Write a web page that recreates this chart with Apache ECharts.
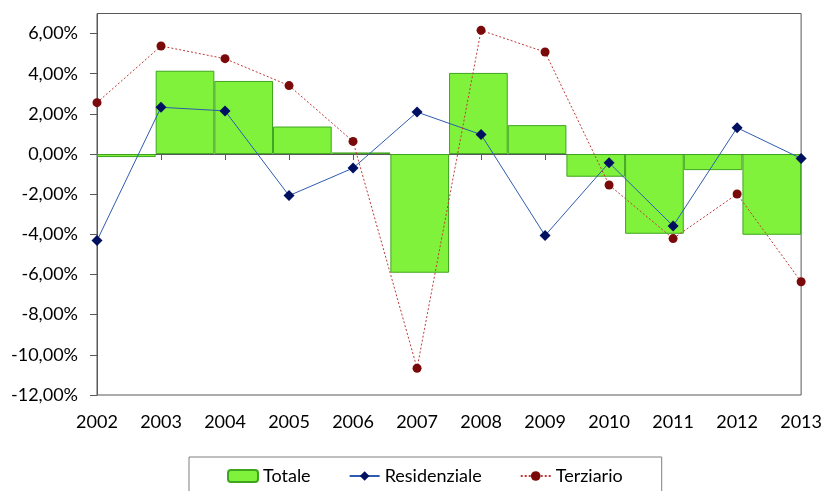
<!DOCTYPE html>
<html>
<head>
<meta charset="utf-8">
<script src="https://cdn.jsdelivr.net/npm/echarts@6/dist/echarts.min.js"></script>
<style>
  html, body { margin: 0; padding: 0; background: #fff; }
  #chart { width: 825px; height: 491px; }
</style>
</head>
<body>
<div id="chart"></div>
<script>
// Annual change (%) by sector
const years = ['2002', '2003', '2004', '2005', '2006', '2007', '2008', '2009', '2010', '2011', '2012', '2013'];
const totale = [-0.15, 4.15, 3.64, 1.37, 0.08, -5.91, 4.04, 1.44, -1.13, -3.97, -0.80, -4.02];
const residenziale = [-4.31, 2.33, 2.15, -2.07, -0.70, 2.09, 0.97, -4.06, -0.43, -3.58, 1.31, -0.22];
const terziario = [2.56, 5.38, 4.75, 3.41, 0.63, -10.67, 6.16, 5.08, -1.54, -4.21, -1.99, -6.36];
const yTicks = [-12, -10, -8, -6, -4, -2, 0, 2, 4, 6];

const fontFamily = 'Lato, "Open Sans", sans-serif';
const pct = v => v.toFixed(2).replace('.', ',') + '%';

const chart = echarts.init(document.getElementById('chart'), null, { renderer: 'canvas' });
chart.setOption({
  animation: false,
  backgroundColor: '#ffffff',
  textStyle: { fontFamily: fontFamily },
  grid: {
    left: 97, right: 22, top: 13.5, bottom: 96,
    show: true, borderColor: '#595959', borderWidth: 1, backgroundColor: 'transparent'
  },
  legend: {
    left: 189, top: 457,
    padding: [10, 39, 20, 38],
    borderColor: '#7f7f7f', borderWidth: 1,
    itemWidth: 30, itemHeight: 12, itemGap: 38,
    textStyle: { fontSize: 18, color: '#000', fontFamily: fontFamily },
    data: ['Totale', 'Residenziale', 'Terziario']
  },
  xAxis: [
    {
      type: 'category', data: years, boundaryGap: false, position: 'bottom',
      axisLine: { show: true, lineStyle: { color: '#595959', width: 1 } },
      axisTick: { show: true, length: 6, lineStyle: { color: '#595959' } },
      axisLabel: { fontSize: 18, color: '#000', margin: 18, fontFamily: fontFamily },
      splitLine: { show: false }
    },
    {
      type: 'category', data: years, boundaryGap: true, show: false
    }
  ],
  yAxis: {
    type: 'value', min: -12, max: 7, interval: 2,
    axisLine: { show: true, lineStyle: { color: '#595959', width: 1 } },
    axisTick: { show: true, length: 7, customValues: yTicks, lineStyle: { color: '#595959' } },
    axisLabel: { fontSize: 18, color: '#000', margin: 19, customValues: yTicks, formatter: pct, fontFamily: fontFamily },
    splitLine: { show: false }
  },
  series: [
    {
      name: 'Totale', type: 'bar', xAxisIndex: 1, data: totale,
      barWidth: '100%', barCategoryGap: 0,
      itemStyle: { color: '#80f23c', borderColor: '#3fa51e', borderWidth: 1 },
      z: 1
    },
    {
      name: 'Residenziale', type: 'line', xAxisIndex: 0, data: residenziale,
      symbol: 'diamond', symbolSize: 11,
      lineStyle: { color: '#2e5cb0', width: 1 },
      itemStyle: { color: '#001060' },
      z: 3
    },
    {
      name: 'Terziario', type: 'line', xAxisIndex: 0, data: terziario,
      symbol: 'circle', symbolSize: 9,
      lineStyle: { color: '#c03a3a', width: 1, type: [2, 2] },
      itemStyle: { color: '#7a0a0a' },
      z: 4
    }
  ]
});
</script>
</body>
</html>
